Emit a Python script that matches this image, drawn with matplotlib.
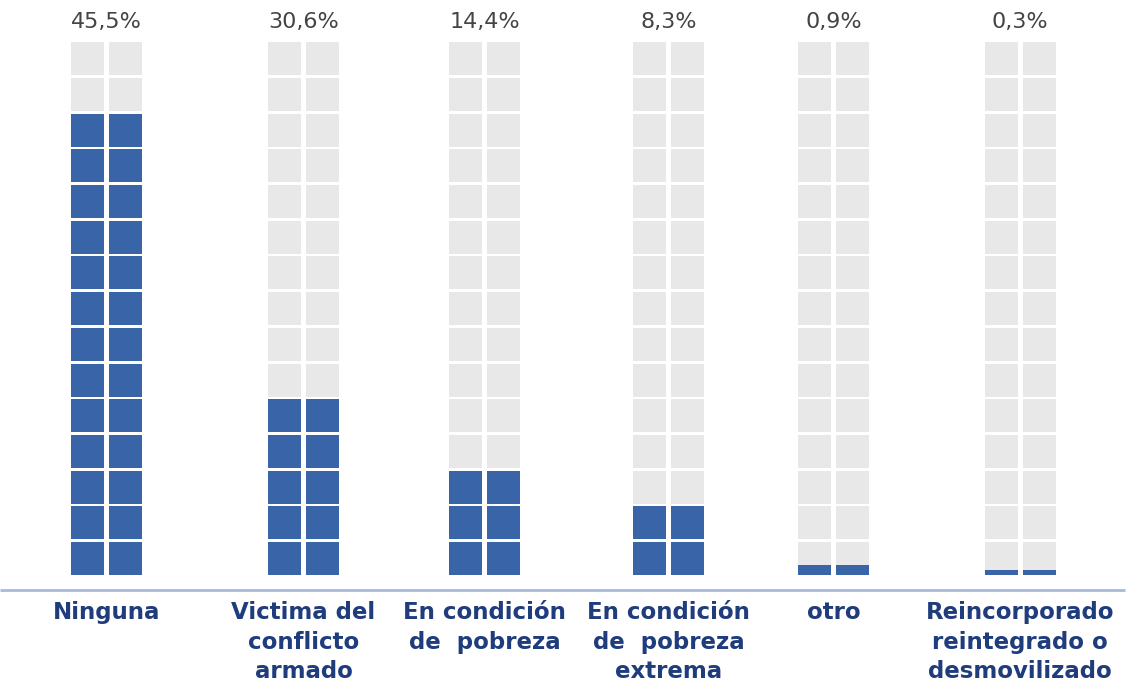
import matplotlib
matplotlib.use('Agg')
import matplotlib.pyplot as plt
from matplotlib.patches import Rectangle

# data
categorias = ['Ninguna', 'Victima del\nconflicto\narmado', 'En condición\nde  pobreza',
              'En condición\nde  pobreza\nextrema', 'otro',
              'Reincorporado\nreintegrado o\ndesmovilizado']
porcentajes = ['45,5%', '30,6%', '14,4%', '8,3%', '0,9%', '0,3%']
bloques_llenos = [13, 5, 3, 2, 0.3, 0.15]   # filled squares per column (height in blocks)
total_bloques = 15

# layout (pixels)
W, H = 1128, 685
centros = [106.5, 303.5, 484.5, 668.5, 833.5, 1020]
base_px = 575          # bottom of the squares
paso_px = 35.7         # vertical pitch of a square
lado = 33              # square side
hueco = 5              # gap between the two sub-columns

azul = '#3a64a8'
gris = '#e8e8e8'
texto_azul = '#1f3c7c'

fig = plt.figure(figsize=(W / 100, H / 100), dpi=100)
ax = fig.add_axes([0, 0, 1, 1])
ax.set_xlim(0, W)
# y axis in block units, 0 at the base of the squares
ax.set_ylim(-(H - base_px) / paso_px, base_px / paso_px)
ax.axis('off')

alto = lado / paso_px
for c, n in zip(centros, bloques_llenos):
    for x0 in (c - hueco / 2 - lado, c + hueco / 2):
        for i in range(total_bloques):
            ax.add_patch(Rectangle((x0, i), lado, alto, facecolor=gris, lw=0))
            lleno = min(max(n - i, 0), 1)
            if lleno > 0:
                ax.add_patch(Rectangle((x0, i), lado, alto * lleno, facecolor=azul, lw=0))

# base line
ax.plot([0, 1125], [-15 / paso_px] * 2, color='#a9b8df', lw=2, solid_capstyle='butt')

for c, p in zip(centros, porcentajes):
    fig.text(c / W, 1 - 22 / H, p, ha='center', va='center', fontsize=16, color='#444444')

for c, t in zip(centros, categorias):
    fig.text(c / W, 1 - 601 / H, t, ha='center', va='top', fontsize=16.5,
             fontweight='bold', color=texto_azul, linespacing=1.37)

fig.savefig('out.png', dpi=100)
